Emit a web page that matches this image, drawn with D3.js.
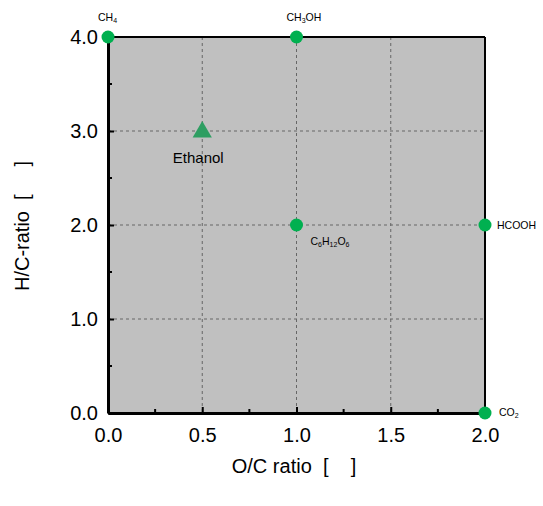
<!DOCTYPE html>
<html><head><meta charset="utf-8">
<script src="https://cdn.jsdelivr.net/npm/d3@7"></script>
<style>body{margin:0;background:#fff}text{font-family:"Liberation Sans",Arial,sans-serif}</style>
</head><body><svg id="c" width="543" height="506"></svg>
<script>
const compounds = ["CH4","CH3OH","C6H12O6","HCOOH","CO2"];
const ocRatio = [0,1,1,2,2];
const hcRatio = [4,4,2,2,0];
const ethanolOC = [0.5];
const ethanolHC = [3];
const xTicks = [0,0.5,1,1.5,2];
const yTicks = [0,1,2,3,4];

const svg = d3.select("#c");
const L=108,R=485,T=37,B=413;
const x = d3.scaleLinear().domain([0,2]).range([L,R]);
const y = d3.scaleLinear().domain([0,4]).range([B,T]);

svg.append("rect").attr("x",L).attr("y",T).attr("width",R-L).attr("height",B-T).attr("fill","#c0c0c0");
// grid
svg.append("g").selectAll("line").data(xTicks.slice(1,-1)).join("line")
  .attr("x1",d=>x(d)).attr("x2",d=>x(d)).attr("y1",T).attr("y2",B)
  .attr("stroke","#666").attr("stroke-dasharray","3,3");
svg.append("g").selectAll("line").data(yTicks.slice(1,-1)).join("line")
  .attr("y1",d=>y(d)).attr("y2",d=>y(d)).attr("x1",L).attr("x2",R)
  .attr("stroke","#666").attr("stroke-dasharray","3,3");
// border
svg.append("line").attr("x1",L).attr("x2",R).attr("y1",T).attr("y2",T).attr("stroke","#000").attr("stroke-width",2);
svg.append("line").attr("x1",R).attr("x2",R).attr("y1",T).attr("y2",B).attr("stroke","#000").attr("stroke-width",2);

// axes
const xAxis = d3.axisBottom(x).tickValues(xTicks).tickFormat(d3.format(".1f")).tickSizeInner(-6).tickSizeOuter(0).tickPadding(12);
const gx = svg.append("g").attr("transform",`translate(0,${B})`).call(xAxis);
gx.select(".domain").attr("stroke-width",3);
gx.selectAll(".tick line").attr("stroke-width",2);
gx.selectAll("text").attr("font-size",20).attr("fill","#000").attr("dy","0.85em");
svg.append("g").selectAll("line").data(d3.range(0.25,2,0.5)).join("line")
  .attr("x1",d=>x(d)).attr("x2",d=>x(d)).attr("y1",B).attr("y2",B-4).attr("stroke","#000").attr("stroke-width",2);

const yAxis = d3.axisLeft(y).tickValues(yTicks).tickFormat(d3.format(".1f")).tickSizeInner(-6).tickSizeOuter(0).tickPadding(10);
const gy = svg.append("g").attr("transform",`translate(${L},0)`).call(yAxis);
gy.select(".domain").attr("stroke-width",3);
gy.selectAll(".tick line").attr("stroke-width",2);
gy.selectAll("text").attr("font-size",20).attr("fill","#000");
svg.append("g").selectAll("line").data(d3.range(0.5,4,1)).join("line")
  .attr("y1",d=>y(d)).attr("y2",d=>y(d)).attr("x1",L).attr("x2",L+4).attr("stroke","#000").attr("stroke-width",2);

// titles
svg.append("text").attr("x",294).attr("y",473).attr("text-anchor","middle").attr("font-size",20).attr("xml:space","preserve").text("O/C ratio  [    ]");
svg.append("text").attr("transform","translate(29,226) rotate(-90)").attr("text-anchor","middle").attr("font-size",20).attr("xml:space","preserve").text("H/C-ratio  [     ]");

// points
svg.append("g").selectAll("circle").data(compounds).join("circle")
  .attr("cx",(d,i)=>x(ocRatio[i])).attr("cy",(d,i)=>y(hcRatio[i])).attr("r",6.5).attr("fill","#00b050");

// triangle
svg.append("g").selectAll("path").data(ethanolOC).join("path")
  .attr("d",d3.symbol().type(d3.symbolTriangle).size(160))
  .attr("transform",(d,i)=>`translate(${x(d)},${y(ethanolHC[i])+1})`).attr("fill","#2e9e62");
svg.append("text").attr("x",x(ethanolOC[0])-4).attr("y",y(ethanolHC[0])+32).attr("text-anchor","middle").attr("font-size",15).text("Ethanol");

// labels with subscripts
const labels = [
  {parts:[["CH",0],["4",1]], dx:-10, dy:-16},
  {parts:[["CH",0],["3",1],["OH",0]], dx:-10, dy:-16},
  {parts:[["C",0],["6",1],["H",0],["12",1],["O",0],["6",1]], dx:14, dy:20},
  {parts:[["HCOOH",0]], dx:12, dy:4},
  {parts:[["CO",0],["2",1]], dx:14, dy:3},
];
labels.forEach((lb,i)=>{
  const t = svg.append("text").attr("x",x(ocRatio[i])+lb.dx).attr("y",y(hcRatio[i])+lb.dy).attr("font-size",10.5);
  let prevSub=false;
  lb.parts.forEach(([s,sub])=>{
    const ts = t.append("tspan").attr("font-size",sub?7:10.5).text(s);
    if(sub && !prevSub) ts.attr("dy",2);
    else if(!sub && prevSub) ts.attr("dy",-2);
    prevSub=sub;
  });
});
</script></body></html>
